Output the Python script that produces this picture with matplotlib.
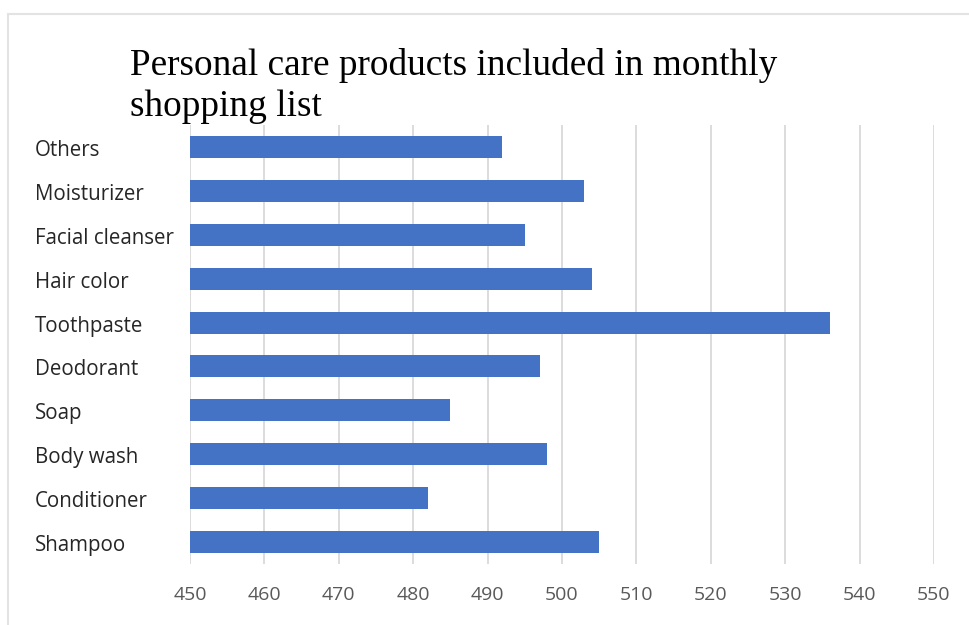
import matplotlib
matplotlib.use("Agg")
from matplotlib import pyplot as plt
from matplotlib.patches import Rectangle
from matplotlib.transforms import blended_transform_factory

# monthly shopping list counts, bottom to top
products = ['Shampoo', 'Conditioner', 'Body wash', 'Soap', 'Deodorant',
            'Toothpaste', 'Hair color', 'Facial cleanser', 'Moisturizer', 'Others']
counts = [505, 482, 498, 485, 497, 536, 504, 495, 503, 492]
x_ticks = [450, 460, 470, 480, 490, 500, 510, 520, 530, 540, 550]

bar_color = '#4472c4'
grid_color = '#d9d9d9'
label_color = '#595959'

fig = plt.figure(figsize=(9.69, 6.25), dpi=100)
ax = fig.add_axes([190 / 969, 1 - 564 / 625, 744 / 969, 439 / 625])

# chart frame
fig.patches.append(Rectangle((8 / 969, -0.01), 1.0, 1 - 13.5 / 625 + 0.01,
                             transform=fig.transFigure, fill=False,
                             edgecolor='#e3e3e3', linewidth=1.5))

ax.barh(range(len(products)), counts, height=0.5, color=bar_color, zorder=3)
ax.set_xlim(450, 550)
ax.set_ylim(-0.5, len(products) - 0.5)
ax.set_xticks(x_ticks)
ax.set_xticklabels([str(t) for t in x_ticks], fontsize=14, color=label_color,
                   family='Open Sans')
ax.set_yticks(range(len(products)))
ax.set_yticklabels([])

# category names are left-aligned near the frame edge
label_trans = blended_transform_factory(fig.transFigure, ax.transData)
for i, name in enumerate(products):
    fig.text(35 / 969, i - 0.08, name, fontsize=14.8, color='#262626', family='Open Sans',
             ha='left', va='center', transform=label_trans)

ax.tick_params(axis='both', length=0, pad=16)
ax.grid(axis='x', color=grid_color, linewidth=1.3, zorder=0)
for s in ax.spines.values():
    s.set_visible(False)

fig.text(130 / 969, 1 - 48 / 625, 'Personal care products included in monthly\nshopping list',
         fontsize=26.8, family='Liberation Serif', color='black', ha='left', va='top',
         linespacing=1.26)

fig.savefig('out.png', dpi=100)
